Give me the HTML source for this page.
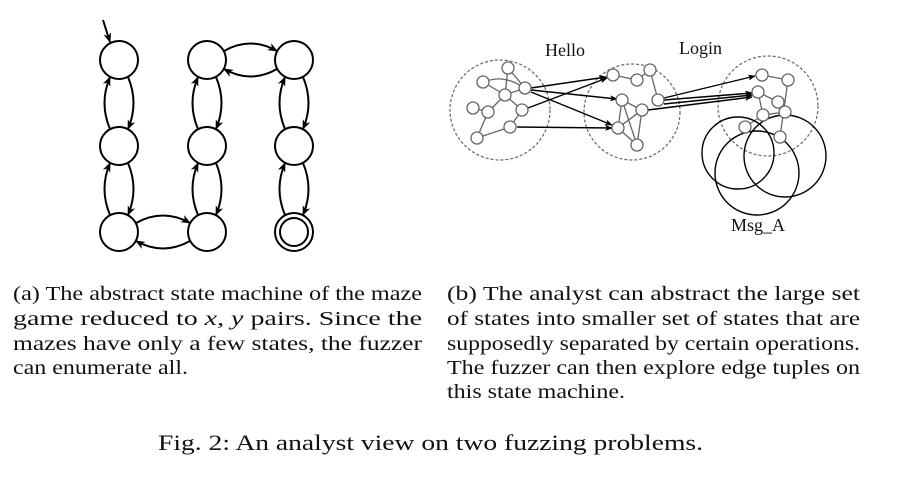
<!DOCTYPE html>
<html><head><meta charset="utf-8"><style>
html,body{margin:0;padding:0;background:#fff;width:899px;height:477px;overflow:hidden}
svg{display:block}
text{font-family:"Liberation Serif","Times New Roman",serif;fill:#111}
</style></head><body>
<svg width="899" height="477" viewBox="0 0 899 477" font-family="Liberation Serif, serif">
<defs>
<marker id="ah" markerWidth="10" markerHeight="8" refX="9" refY="4" orient="auto" markerUnits="userSpaceOnUse"><path d="M0,0 L10,4 L0,8 L3,4 Z" fill="#000"/></marker>
<marker id="ah2" markerWidth="8" markerHeight="6" refX="7" refY="3" orient="auto" markerUnits="userSpaceOnUse"><path d="M0,0 L8,3 L0,6 L2,3 Z" fill="#000"/></marker>
</defs>
<g id="maze" fill="none" stroke="#000" stroke-width="2"></g>
<g id="proto"></g>
<text x="545" y="56" font-size="18">Hello</text>
<text x="679" y="54" font-size="18">Login</text>
<text x="731" y="231" font-size="18">Msg_A</text>
<g font-size="20">
<text x="13" y="300" textLength="409" lengthAdjust="spacingAndGlyphs">(a) The abstract state machine of the maze</text>
<text x="13" y="325" textLength="409" lengthAdjust="spacingAndGlyphs">game reduced to <tspan font-style="italic">x, y</tspan> pairs. Since the</text>
<text x="13" y="350" textLength="409" lengthAdjust="spacingAndGlyphs">mazes have only a few states, the fuzzer</text>
<text x="13" y="374" textLength="175" lengthAdjust="spacingAndGlyphs">can enumerate all.</text>
</g>
<g font-size="20">
<text x="447" y="300" textLength="413" lengthAdjust="spacingAndGlyphs">(b) The analyst can abstract the large set</text>
<text x="447" y="325" textLength="413" lengthAdjust="spacingAndGlyphs">of states into smaller set of states that are</text>
<text x="447" y="350" textLength="413" lengthAdjust="spacingAndGlyphs">supposedly separated by certain operations.</text>
<text x="447" y="374" textLength="413" lengthAdjust="spacingAndGlyphs">The fuzzer can then explore edge tuples on</text>
<text x="447" y="398" textLength="178" lengthAdjust="spacingAndGlyphs">this state machine.</text>
</g>
<text x="158" y="450" font-size="22" textLength="545" lengthAdjust="spacingAndGlyphs">Fig. 2: An analyst view on two fuzzing problems.</text>
</svg>
<script>
const NS='http://www.w3.org/2000/svg';
function mk(parent,tag,attrs){const e=document.createElementNS(NS,tag);for(const k in attrs)e.setAttribute(k,attrs[k]);parent.appendChild(e);return e;}
const maze=document.getElementById('maze');
const cols=[119,207,294], rows=[60,146,232], R=19;
const vpairs=[[0,0],[0,1],[1,0],[1,1],[2,0],[2,1]];
vpairs.forEach(p=>{const x=cols[p[0]],y1=rows[p[1]],y2=rows[p[1]+1],m=(y1+y2)/2;
 let a=mk(maze,'path',{d:`M${x-9},${y2-17} Q${x-20},${m} ${x-9},${y1+17}`,'marker-end':'url(#ah)'});
 
 let b=mk(maze,'path',{d:`M${x+9},${y1+17} Q${x+20},${m} ${x+9},${y2-17}`,'marker-end':'url(#ah)'});
 
});
[[2,0],[0,1]].forEach(p=>{const y=rows[p[0]],x1=cols[p[1]],x2=cols[p[1]+1],m=(x1+x2)/2;
 let a=mk(maze,'path',{d:`M${x1+17},${y-9} Q${m},${y-24} ${x2-17},${y-9}`,'marker-end':'url(#ah)'});
 
 let b=mk(maze,'path',{d:`M${x2-17},${y+9} Q${m},${y+24} ${x1+17},${y+9}`,'marker-end':'url(#ah)'});
 
});
cols.forEach(x=>rows.forEach(y=>{let c=mk(maze,'circle',{cx:x,cy:y,r:R,fill:'#fff'});
 }));
let f=mk(maze,'circle',{cx:294,cy:232,r:14});

let s=mk(maze,'path',{d:'M103,20 L110,42','marker-end':'url(#ah)'});


const pg=document.getElementById('proto');
[[500,110,50],[632,112,48],[768,106,50]].forEach(c=>{let e=mk(pg,'circle',{cx:c[0],cy:c[1],r:c[2],fill:'none',stroke:'#666','stroke-width':1.2,'stroke-dasharray':'3,2'});
 });
const N=[[508,68],[483,82],[525,88],[505,95],[473,108],[488,112],[522,110],[510,127],[477,138],
 [613,75],[637,80],[650,70],[622,100],[642,110],[658,100],[618,128],[637,145],
 [762,75],[788,80],[758,92],[778,102],[763,115],[785,112],[745,127],[780,137]];
const E=[[0,3],[0,2],[1,3],[3,2],[3,5],[3,6],[5,4],[5,8],[6,7],[7,8],[9,10],[10,11],[11,14],[12,15],[12,16],[12,13],[13,15],[15,16],[13,16],
 [17,18],[18,24],[19,21],[19,20],[21,22],[21,23],[20,22]];
E.forEach(e=>{let l=mk(pg,'line',{x1:N[e[0]][0],y1:N[e[0]][1],x2:N[e[1]][0],y2:N[e[1]][1],stroke:'#666','stroke-width':1.3});
 });
let arc=mk(pg,'path',{d:'M481,84 Q500,72 525,88',fill:'none',stroke:'#666','stroke-width':1.3});

[[738,153,36],[757,173,42],[785,156,41]].forEach(c=>{let e=mk(pg,'circle',{cx:c[0],cy:c[1],r:c[2],fill:'none',stroke:'#000','stroke-width':1.4});
 });
[[531,88,606,77],[531,90,617,99],[531,92,612,125],[528,108,607,78],[517,127,612,128],[664,98,755,76],[664,100,752,93],[664,104,752,95],[648,110,752,97]].forEach(a=>{
 let l=mk(pg,'line',{x1:a[0],y1:a[1],x2:a[2],y2:a[3],stroke:'#000','stroke-width':1.4,'marker-end':'url(#ah2)'});
 });
N.forEach(n=>{let c=mk(pg,'circle',{cx:n[0],cy:n[1],r:6,fill:'#fff',stroke:'#666','stroke-width':1.3});
 });
</script>
</body></html>
